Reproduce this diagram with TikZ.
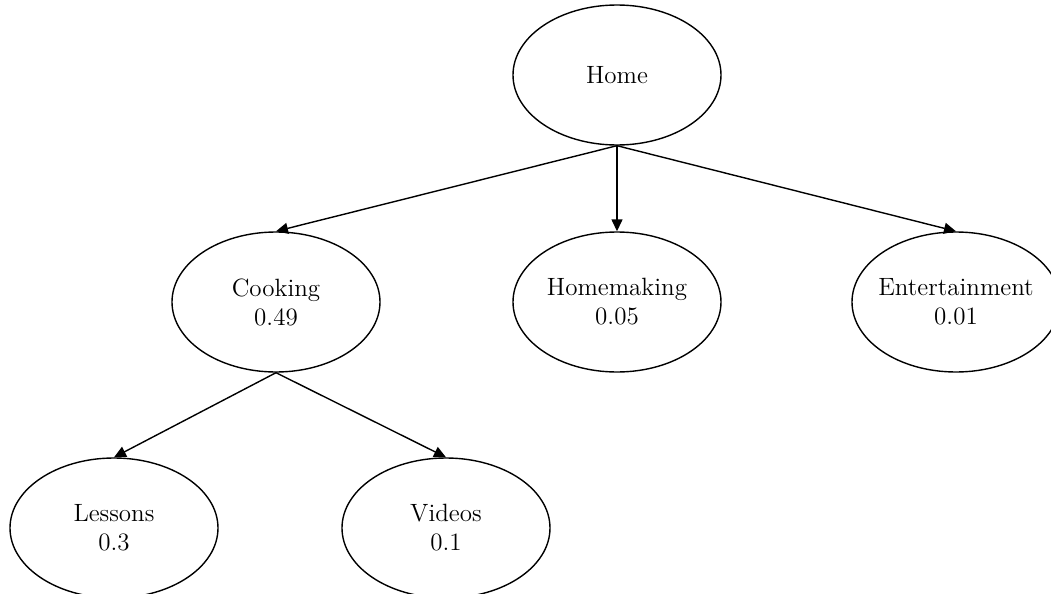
\documentclass[tikz,border=0pt]{standalone}
\usetikzlibrary{shapes.geometric,arrows.meta}
\begin{document}
\begin{tikzpicture}[x=0.5pt,y=-0.5pt,
  nodebox/.style={ellipse,draw,line width=0.7pt,minimum width=104pt,minimum height=70pt,inner sep=0pt,align=center,font=\fontsize{12.5}{14.5}\selectfont},
  edge/.style={line width=0.7pt,-{Triangle[length=6pt,width=5.5pt]}}]
\useasboundingbox (0,0) rectangle (1051,594);
\node[nodebox] (home) at (617,75) {Home};
\node[nodebox] (cook) at (276,302) {Cooking\\0.49};
\node[nodebox] (hm) at (617,302) {Homemaking\\0.05};
\node[nodebox,inner xsep=-2.5pt] (ent) at (956,302) {Entertainment\\0.01};
\node[nodebox] (les) at (114,528) {Lessons\\0.3};
\node[nodebox] (vid) at (446,528) {Videos\\0.1};
\draw[edge] (home.south) -- (cook.north);
\draw[edge] (home.south) -- (hm.north);
\draw[edge] (home.south) -- (ent.north);
\draw[edge] (cook.south) -- (les.north);
\draw[edge] (cook.south) -- (vid.north);
\end{tikzpicture}
\end{document}
